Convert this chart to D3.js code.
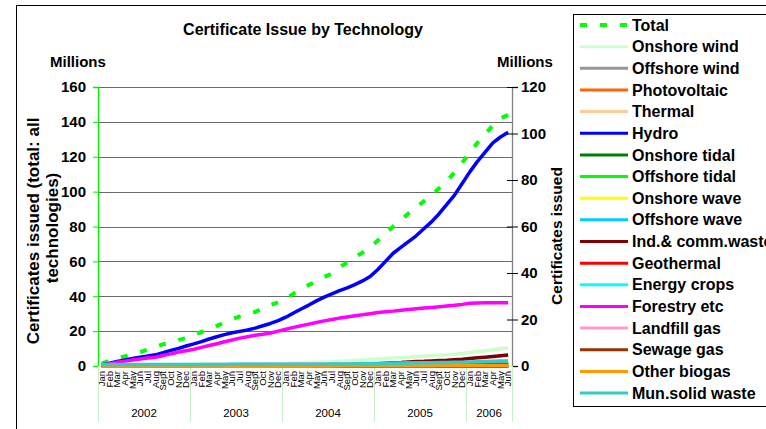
<!DOCTYPE html>
<html><head><meta charset="utf-8">
<script src="https://cdn.jsdelivr.net/npm/d3@7"></script>
<style>body{margin:0;background:#fff}svg{display:block;font-family:"Liberation Sans",Arial,sans-serif}</style>
</head><body><svg id="c" width="766" height="429"></svg>
<script>
// ---------- data ----------
const years = ["2002","2003","2004","2005","2006"];
const monthsPerYear = [12,12,12,12,6];
const monthNames = ["Jan","Feb","Mar","Apr","May","Jun","Jul","Aug","Sept","Oct","Nov","Dec"];
const leftTicks = [0,20,40,60,80,100,120,140,160];
const rightTicks = [0,20,40,60,80,100,120];

const seriesNames = ["Total","Onshore wind","Offshore wind","Photovoltaic","Thermal","Hydro","Onshore tidal","Offshore tidal","Onshore wave","Offshore wave","Ind.& comm.waste","Geothermal","Energy crops","Forestry etc","Landfill gas","Sewage gas","Other biogas","Mun.solid waste"];
const seriesColors = ["#00ff00","#ccffcc","#969696","#ff6600","#ffcc99","#0000ff","#008000","#00ff00","#ffff00","#00ccff","#800000","#ff0000","#00ffff","#ff00ff","#ff99cc","#993300","#ff9900","#33cccc"];

const total = [1.5,3,4.5,5.5,7,8,9.5,11,12.5,13.5,15,16, 18,19.5,21,23,25,27,28.5,30,31,33,35,36.5, 38.5,41.5,44,46.5,48.5,51,53,56.5,59.5,62.5,65,68, 72,76,80,83.5,87.5,91,94.5,98,102,106,111,116.5, 122.5,128,133,138,142,144];
const onshoreWind = [0.3,0.3,0.4,0.4,0.4,0.5,0.5,0.5,0.5,0.6,0.6,0.6, 0.7,0.7,0.7,0.8,0.8,0.8,0.9,0.9,0.9,1.0,1.0,1.1, 1.2,1.3,1.4,1.5,1.6,1.7,1.8,2.0,2.2,2.4,2.6,2.8, 3.0,3.2,3.4,3.6,3.8,4.0,4.2,4.4,4.6,4.8,5.1,5.4, 5.8,6.2,6.6,7.0,7.4,7.7];
const offshoreWind = [0,0,0,0,0,0,0,0,0,0,0,0, 0,0,0,0,0,0,0,0,0,0,0,0, 0,0,0,0,0,0,0.1,0.1,0.1,0.2,0.2,0.2, 0.2,0.3,0.3,0.3,0.3,0.4,0.4,0.4,0.4,0.5,0.5,0.5, 0.5,0.6,0.6,0.6,0.6,0.7];
const photovoltaic = [0,0,0,0,0,0,0,0,0,0,0,0, 0,0,0,0,0,0,0,0,0,0,0,0, 0,0,0,0,0,0,0,0,0,0,0,0, 0,0,0,0,0,0,0,0,0,0,0,0, 0,0,0,0,0,0];
const thermal = [0,0,0,0,0,0,0,0,0,0,0,0, 0,0,0,0,0,0,0,0,0,0,0,0, 0,0,0,0,0,0,0,0,0,0,0,0, 0,0,0,0,0,0,0,0,0,0,0,0, 0,0,0,0,0,0];
const hydro = [0.5,1.2,2,2.6,3.2,3.8,4.3,4.8,5.7,6.7,7.6,8.6, 9.5,10.5,11.6,12.6,13.5,14.3,14.9,15.5,16.3,17.3,18.3,19.5, 21,22.8,24.5,26.2,28,29.6,31,32.4,33.6,35,36.6,38.5, 41.5,45,48.5,51,53.5,56,59,62,65.5,69.5,73.5,78.5, 83.5,88,92,96,98.5,100.5];
const onshoreTidal = [0,0,0,0,0,0,0,0,0,0,0,0, 0,0,0,0,0,0,0,0,0,0,0,0, 0,0,0,0,0,0,0,0,0,0,0,0, 0,0,0,0,0,0,0,0,0,0,0,0, 0,0,0,0,0,0];
const offshoreTidal = [0,0,0,0,0,0,0,0,0,0,0,0, 0,0,0,0,0,0,0,0,0,0,0,0, 0,0,0,0,0,0,0,0,0,0,0,0, 0,0,0,0,0,0,0,0,0,0,0,0, 0,0,0,0,0,0];
const onshoreWave = [0,0,0,0,0,0,0,0,0,0,0,0, 0,0,0,0,0,0,0,0,0,0,0,0, 0,0,0,0,0,0,0,0,0,0,0,0, 0,0,0,0,0,0,0,0,0,0,0,0, 0,0,0,0,0,0];
const offshoreWave = [0,0,0,0,0,0,0,0,0,0,0,0, 0,0,0,0,0,0,0,0,0,0,0,0, 0,0,0,0,0,0,0,0,0,0,0,0, 0,0,0,0,0,0,0,0,0,0,0,0, 0,0,0,0,0,0];
const indCommWaste = [0.1,0.1,0.1,0.1,0.1,0.1,0.1,0.1,0.1,0.1,0.1,0.1, 0.1,0.1,0.1,0.1,0.2,0.2,0.2,0.2,0.2,0.2,0.3,0.3, 0.3,0.3,0.4,0.4,0.4,0.5,0.5,0.6,0.6,0.7,0.7,0.8, 1.0,1.2,1.4,1.5,1.7,1.9,2.0,2.2,2.4,2.5,2.7,2.9, 3.2,3.5,3.8,4.1,4.4,4.7];
const geothermal = [0,0,0,0,0,0,0,0,0,0,0,0, 0,0,0,0,0,0,0,0,0,0,0,0, 0,0,0,0,0,0,0,0,0,0,0,0, 0,0,0,0,0,0,0,0,0,0,0,0, 0,0,0,0,0,0];
const energyCrops = [0,0,0,0,0,0,0,0,0,0,0,0, 0,0,0,0,0,0,0,0,0,0,0,0, 0.1,0.1,0.1,0.1,0.2,0.2,0.2,0.2,0.3,0.3,0.3,0.4, 0.4,0.4,0.5,0.5,0.5,0.6,0.6,0.6,0.7,0.7,0.7,0.8, 0.8,0.9,0.9,1.0,1.0,1.0];
const forestry = [0.3,1,1.6,2.1,2.6,3,3.4,3.8,4.5,5.2,6,6.6, 7.2,8,8.8,9.6,10.4,11.2,12,12.6,13.2,13.7,14.2,15, 15.8,16.6,17.3,18,18.7,19.4,20,20.6,21.1,21.6,22,22.5, 23,23.3,23.6,24,24.3,24.6,24.9,25.2,25.5,25.8,26.1,26.5, 27,27.1,27.2,27.2,27.2,27.2];
const landfillGas = [0.3,0.3,0.3,0.3,0.4,0.4,0.4,0.4,0.4,0.5,0.5,0.5, 0.5,0.5,0.6,0.6,0.6,0.6,0.6,0.7,0.7,0.7,0.7,0.7, 0.8,0.8,0.8,0.8,0.9,0.9,0.9,0.9,1.0,1.0,1.0,1.0, 1.1,1.1,1.1,1.2,1.2,1.2,1.2,1.3,1.3,1.3,1.3,1.4, 1.4,1.4,1.4,1.5,1.5,1.5];
const sewageGas = [0.2,0.2,0.2,0.2,0.2,0.2,0.2,0.2,0.2,0.2,0.2,0.2, 0.3,0.3,0.3,0.3,0.3,0.3,0.3,0.3,0.3,0.3,0.3,0.3, 0.4,0.4,0.4,0.4,0.4,0.4,0.4,0.4,0.4,0.4,0.5,0.5, 0.5,0.5,0.5,0.5,0.5,0.5,0.6,0.6,0.6,0.6,0.6,0.6, 0.6,0.6,0.6,0.7,0.7,0.7];
const otherBiogas = [0,0,0,0,0,0,0,0,0,0,0,0, 0,0,0,0,0,0,0,0,0,0,0,0, 0,0,0,0,0,0,0,0.1,0.1,0.1,0.1,0.1, 0.1,0.1,0.1,0.1,0.1,0.1,0.1,0.1,0.2,0.2,0.2,0.2, 0.2,0.2,0.2,0.2,0.2,0.2];
const munSolidWaste = [0.6,0.6,0.6,0.6,0.6,0.6,0.6,0.6,0.6,0.6,0.6,0.6, 0.6,0.6,0.6,0.6,0.6,0.7,0.7,0.7,0.7,0.7,0.7,0.7, 0.7,0.7,0.8,0.8,0.8,0.8,0.9,0.9,0.9,1.0,1.0,1.0, 1.1,1.1,1.2,1.2,1.3,1.3,1.4,1.4,1.5,1.5,1.6,1.6, 1.7,1.8,1.9,2.0,2.1,2.2];

const seriesValues = [total,onshoreWind,offshoreWind,photovoltaic,thermal,hydro,onshoreTidal,offshoreTidal,onshoreWave,offshoreWave,indCommWaste,geothermal,energyCrops,forestry,landfillGas,sewageGas,otherBiogas,munSolidWaste];

// ---------- build ----------
const cats = [];
years.forEach((y,yi)=>{ for(let m=0;m<monthsPerYear[yi];m++) cats.push({key:y+"-"+m, month:monthNames[m], year:y}); });

const svg = d3.select("#c");
const X0 = 98, X1 = 512, Y0 = 366, Y1 = 87;
const x = d3.scaleBand().domain(cats.map(c=>c.key)).range([X0, X1]);
const yL = d3.scaleLinear().domain([0,160]).range([Y0, Y1]);
const yR = d3.scaleLinear().domain([0,120]).range([Y0, Y1]);

// outer frame
svg.append("rect").attr("x",16.5).attr("y",5.5).attr("width",900).attr("height",600)
  .attr("fill","#fff").attr("stroke","#000").attr("stroke-width",1);

// title
svg.append("text").attr("x",303).attr("y",35).attr("text-anchor","middle")
  .attr("font-weight","bold").attr("font-size",16).text("Certificate Issue by Technology");
svg.append("text").attr("x",50).attr("y",67).attr("font-weight","bold").attr("font-size",15).text("Millions");
svg.append("text").attr("x",497).attr("y",67).attr("font-weight","bold").attr("font-size",15).text("Millions");

// gridlines
svg.append("g").selectAll("line").data(leftTicks).join("line")
  .attr("x1",X0).attr("x2",X1).attr("y1",d=>Math.round(yL(d))+0.5).attr("y2",d=>Math.round(yL(d))+0.5)
  .attr("stroke","#6a6a6a").attr("stroke-width",1);

// left axis
const gL = svg.append("g").attr("transform",`translate(${X0},0)`)
  .call(d3.axisLeft(yL).tickValues(leftTicks).tickSize(5).tickPadding(7));
gL.select(".domain").attr("stroke","#00ee00").attr("stroke-width",1.3);
gL.selectAll(".tick line").attr("stroke","#00ee00");
gL.selectAll(".tick text").attr("font-size",15).attr("font-weight","bold").attr("font-family","Liberation Sans, Arial, sans-serif").attr("fill","#000");

// right axis
const gR = svg.append("g").attr("transform",`translate(${X1},0)`)
  .call(d3.axisRight(yR).tickValues(rightTicks).tickSize(6).tickPadding(3));
gR.select(".domain").attr("stroke","#808080").attr("stroke-width",1.3);
gR.selectAll(".tick line").attr("x1",-5).attr("stroke","#000");
gR.selectAll(".tick text").attr("font-size",15).attr("font-weight","bold").attr("font-family","Liberation Sans, Arial, sans-serif").attr("fill","#000");

// category axis
svg.append("line").attr("x1",X0).attr("x2",X1).attr("y1",Y0+0.5).attr("y2",Y0+0.5).attr("stroke","#c8f0c8");
const yearStarts = [];
let acc = 0;
years.forEach((y,yi)=>{ yearStarts.push({year:y, start:acc, n:monthsPerYear[yi]}); acc += monthsPerYear[yi]; });
const sepX = yearStarts.map(d=>x(cats[d.start].key)).concat([X1]);
svg.append("g").selectAll("line").data(sepX).join("line")
  .attr("x1",d=>Math.round(d)+0.5).attr("x2",d=>Math.round(d)+0.5).attr("y1",Y0).attr("y2",422)
  .attr("stroke","#c8f0c8").attr("stroke-width",1);
svg.append("g").selectAll("text").data(cats).join("text")
  .attr("transform",d=>`translate(${x(d.key)+x.bandwidth()/2},${Y0+5}) rotate(-90)`)
  .attr("text-anchor","end").attr("dy","0.35em").attr("font-size",9.5).text(d=>d.month);
svg.append("g").selectAll("text").data(yearStarts).join("text")
  .attr("x",d=>{const a=x(cats[d.start].key); const b=x(cats[d.start+d.n-1].key)+x.bandwidth(); return (a+b)/2;})
  .attr("y",417).attr("text-anchor","middle").attr("font-size",11.5).text(d=>d.year);

// axis titles
svg.append("text").attr("transform","translate(33,231) rotate(-90)").attr("text-anchor","middle").attr("dy","0.35em")
  .attr("font-weight","bold").attr("font-size",17).text("Certificates issued (total: all");
svg.append("text").attr("transform","translate(52,228) rotate(-90)").attr("text-anchor","middle").attr("dy","0.35em")
  .attr("font-weight","bold").attr("font-size",17).text("technologies)");
svg.append("text").attr("transform","translate(557,236) rotate(-90)").attr("text-anchor","middle").attr("dy","0.35em")
  .attr("font-weight","bold").attr("font-size",15.5).text("Certificates issued");

// series lines
const cx = i => x(cats[i].key) + x.bandwidth()/2;
const lineL = d3.line().x((d,i)=>cx(i)).y(d=>yL(d));
const lineR = d3.line().x((d,i)=>cx(i)).y(d=>yR(d));
const gLines = svg.append("g").attr("fill","none").attr("stroke-linejoin","round");
gLines.append("path").attr("d",lineL(total)).attr("stroke",seriesColors[0]).attr("stroke-width",4).attr("stroke-dasharray","7,13");
for(let s=1;s<seriesValues.length;s++){
  gLines.append("path").attr("d",lineR(seriesValues[s])).attr("stroke",seriesColors[s]).attr("stroke-width",3.5);
}

// legend
const LX = 573, LY = 14;
svg.append("rect").attr("x",LX+0.5).attr("y",LY+0.5).attr("width",300).attr("height",392)
  .attr("fill","#fff").attr("stroke","#000").attr("stroke-width",1);
const lg = svg.append("g").selectAll("g").data(seriesNames).join("g")
  .attr("transform",(d,i)=>`translate(0,${25 + i*21.65})`);
lg.append("line").attr("x1",580).attr("x2",628).attr("y1",0).attr("y2",0)
  .attr("stroke",(d,i)=>seriesColors[i]).attr("stroke-width",(d,i)=>i===0?4:3)
  .attr("stroke-dasharray",(d,i)=>i===0?"7,13":null);
lg.append("text").attr("x",632).attr("dy","0.35em").attr("font-weight","bold").attr("font-size",16).text(d=>d);
</script></body></html>
